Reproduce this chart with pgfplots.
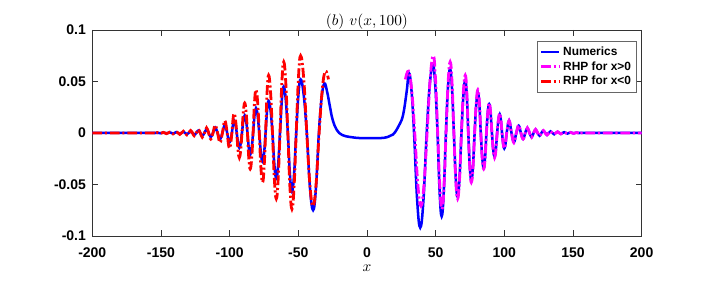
\documentclass[border=0pt]{standalone}
\usepackage{fontspec}
\usepackage{pgfplots}
\pgfplotsset{compat=1.18}
\usetikzlibrary{calc}
\newfontfamily\hv{Liberation Sans}
\definecolor{mblue}{rgb}{0,0,1}
\definecolor{mmag}{rgb}{1,0,1}
\definecolor{mred}{rgb}{1,0,0}
\begin{document}
\begin{tikzpicture}
\begin{axis}[
  scale only axis, width=392.4pt, height=147.1pt,
  xmin=-200, xmax=200, ymin=-0.1, ymax=0.1,
  xtick={-200,-150,-100,-50,0,50,100,150,200},
  xticklabels={-200,-150,-100,-50,0,50,100,150,200},
  ytick={-0.1,-0.05,0,0.05,0.1},
  yticklabels={-0.1,-0.05,0,0.05,0.1},
  tick align=inside, major tick length=4pt,
  tick label style={font=\hv\bfseries\fontsize{10}{12}\selectfont, color=black},
  xticklabel style={yshift=-5pt},
  yticklabel style={xshift=-1pt},
  axis line style={black!80, line width=0.4pt},
  every tick/.style={black!80, line width=0.4pt},
  title={$(b)\ v(x,100)$},
  title style={font=\fontsize{11}{13}\selectfont, yshift=-9pt},
  xlabel={$x$},
  xlabel style={font=\fontsize{11}{13}\selectfont, yshift=2pt},
  legend style={at={(0.99,0.945)}, anchor=north east,
    font=\hv\bfseries\fontsize{8.5}{10}\selectfont,
    draw=black!60, line width=0.4pt, inner sep=1.5pt, row sep=-1pt},
  legend cell align=left,
  legend image code/.code={\draw[#1] (0cm,0cm) -- (0.45cm,0cm);},
  every axis plot/.append style={smooth, tension=0.7},
]
\addplot[mblue, line width=1.8pt] coordinates {
(-200,0) (-170,0) (-156,0) (-154.9,-0.0002) (-153.8,0) (-152.7,0.0002) (-151.6,0) (-150.5,-0.0003) (-149.4,0) (-148.3,0.0003) (-147.15,0) (-146,-0.0004) (-144.8,0) (-143.6,0.0005) (-142.4,0) (-141.2,-0.0006) (-140,0) (-138.8,0.0008) (-137.55,0) (-136.3,-0.0009) (-135,0) (-133.7,0.0011) (-132.4,0) (-131.1,-0.0013) (-129.75,0) (-128.4,0.0016) (-127.05,0) (-125.7,-0.0019) (-124.25,0) (-122.8,0.0023) (-121.35,0) (-119.9,-0.0028) (-118.35,0) (-116.8,0.0034) (-115.25,0) (-113.7,-0.004) (-112.1,0) (-110.5,0.005) (-108.75,0) (-107,-0.006) (-105.25,0) (-103.5,0.0075) (-101.75,0)
(-100.9,-0.0064) (-100,-0.009) (-99.2,-0.0064) (-98.35,0) (-97.5,0.0085) (-96.7,0.012) (-95.75,0.0085) (-94.8,0) (-93.85,-0.0103) (-92.9,-0.0145) (-91.95,-0.0103) (-91,0) (-90,0.012) (-89,0.017) (-88,0.012) (-87,0) (-86,-0.0148) (-85,-0.021) (-83.95,-0.0148) (-82.9,0) (-81.85,0.017) (-80.8,0.024) (-79.6,0.017) (-78.4,0) (-77.2,-0.0198) (-76,-0.028) (-74.9,-0.0198) (-73.8,0) (-72.7,0.022) (-71.6,0.031) (-70.2,0.022) (-68.8,0) (-67.4,-0.031) (-66,-0.044) (-64.65,-0.031) (-63.3,0) (-61.95,0.032) (-60.6,0.045) (-59.1,0.032) (-57.6,0) (-56.1,-0.040) (-54.6,-0.057) (-53.05,-0.040) (-51.5,0) (-49.9,0.037) (-48.3,0.052) (-46.05,0.037) (-43.8,0) (-41.5,-0.053) (-39.2,-0.075) (-37.1,-0.053) (-35,0) (-33,0.034) (-31,0.048) (-29,0.040) (-27,0.026) (-25,0.013) (-22,0.003) (-18,-0.002) (-12,-0.004) (-5,-0.005) (0,-0.005) (5,-0.005) (10,-0.005) (15,-0.004) (19,-0.0015) (22,0.004) (24,0.009) (26.4,0.018) (28.9,0.040) (30.6,0.058)
(32.45,0.041) (34.3,0) (36.55,-0.065) (38.8,-0.092) (41.15,-0.065) (43.5,0) (45.75,0.047) (48,0.066) (49.7,0.047) (51.4,0) (52.9,-0.057) (54.4,-0.081) (55.95,-0.057) (57.5,0) (59,0.044) (60.5,0.062) (61.9,0.044) (63.3,0) (64.65,-0.044) (66,-0.062) (67.4,-0.044) (68.8,0) (70.2,0.036) (71.6,0.051) (72.7,0.036) (73.8,0) (74.9,-0.0325) (76,-0.046) (77.2,-0.0325) (78.4,0) (79.6,0.0276) (80.8,0.039) (81.85,0.0276) (82.9,0) (83.95,-0.024) (85,-0.034) (86,-0.024) (87,0) (88,0.0198) (89,0.028) (90,0.0198) (91,0) (91.95,-0.0163) (92.9,-0.023) (93.85,-0.0163) (94.8,0) (95.75,0.0127) (96.7,0.018) (97.5,0.0127) (98.35,0) (99.2,-0.0106) (100,-0.015) (100.9,-0.0106) (101.75,0)
(103.5,0.012) (105.25,0) (107,-0.009) (108.75,0) (110.5,0.007) (112.1,0) (113.7,-0.0058) (115.25,0) (116.8,0.0048) (118.35,0) (119.9,-0.004) (121.35,0) (122.8,0.0033) (124.25,0) (125.7,-0.0027) (127.05,0) (128.4,0.0022) (129.75,0) (131.1,-0.0018) (132.4,0) (133.7,0.0015) (135,0) (136.3,-0.0013) (137.55,0) (138.8,0.0011) (140,0) (141.2,-0.0009) (142.4,0) (143.6,0.0007) (144.8,0) (146,-0.0006) (147.15,0) (148.3,0.0005) (149.4,0) (150.5,-0.0004) (151.6,0) (152.7,0.0003) (153.8,0) (154.9,-0.0002) (156,0) (170,0) (200,0)
};
\addlegendentry{Numerics}
\addplot[mmag, line width=2pt, dash pattern=on 7pt off 2pt on 1.5pt off 2pt] coordinates {
(28,0.052) (30.3,0.060) (32.55,0.042) (34.8,0) (37.05,-0.050) (39.3,-0.071) (41.55,-0.050) (43.8,0) (46.05,0.053) (48.3,0.075) (49.9,0.053) (51.5,0) (53.05,-0.052) (54.6,-0.074) (56.1,-0.052) (57.6,0) (59.1,0.049) (60.6,0.069) (61.95,0.049) (63.3,0) (64.65,-0.045) (66.0,-0.064) (67.4,-0.045) (68.8,0) (70.2,0.040) (71.6,0.056) (72.7,0.040) (73.8,0) (74.9,-0.034) (76.0,-0.048) (77.2,-0.034) (78.4,0) (79.6,0.030) (80.8,0.042) (81.85,0.030) (82.9,0) (83.95,-0.025) (85.0,-0.035) (86.0,-0.025) (87.0,0) (88.0,0.0205) (89.0,0.029) (90.0,0.0205) (91.0,0) (91.95,-0.017) (92.9,-0.024) (93.85,-0.017) (94.8,0) (95.75,0.0134) (96.7,0.019) (97.5,0.0134) (98.35,0) (99.2,-0.0106) (100,-0.015) (100.9,-0.0106) (101.75,0)
(103.5,0.012) (105.25,0) (107.0,-0.0095) (108.75,0) (110.5,0.0075) (112.1,0) (113.7,-0.006) (115.25,0) (116.8,0.005) (118.35,0) (119.9,-0.0042) (121.35,0) (122.8,0.0035) (124.25,0) (125.7,-0.0029) (127.05,0) (128.4,0.0024) (129.75,0) (131.1,-0.002) (132.4,0) (133.7,0.0017) (135.0,0) (136.3,-0.0014) (137.55,0) (138.8,0.0012) (140.0,0) (141.2,-0.001) (142.4,0) (143.6,0.0008) (144.8,0) (146.0,-0.0007) (147.15,0) (148.3,0.0006) (149.4,0) (150.5,-0.0005) (151.6,0) (152.7,0.0004) (153.8,0) (154.9,-0.0003) (156,0) (170,0) (200,0)
};
\addlegendentry{RHP for x>0}
\addplot[mred, line width=2pt, dash pattern=on 7pt off 2pt on 1.5pt off 2pt] coordinates {
(-200,0) (-170,0) (-156,0) (-154.9,-0.0003) (-153.8,0) (-152.7,0.0004) (-151.6,0) (-150.5,-0.0005) (-149.4,0) (-148.3,0.0006) (-147.15,0) (-146.0,-0.0007) (-144.8,0) (-143.6,0.0008) (-142.4,0) (-141.2,-0.001) (-140,0) (-138.8,0.0012) (-137.55,0) (-136.3,-0.0014) (-135,0) (-133.7,0.0017) (-132.4,0) (-131.1,-0.002) (-129.75,0) (-128.4,0.0024) (-127.05,0) (-125.7,-0.0029) (-124.25,0) (-122.8,0.0035) (-121.35,0) (-119.9,-0.0042) (-118.35,0) (-116.8,0.005) (-115.25,0) (-113.7,-0.006) (-112.1,0) (-110.5,0.0075) (-108.75,0) (-107,-0.0095) (-105.25,0) (-103.5,0.012) (-101.75,0)
(-100.9,-0.0106) (-100,-0.015) (-99.2,-0.0106) (-98.35,0) (-97.5,0.0134) (-96.7,0.019) (-95.75,0.0134) (-94.8,0) (-93.85,-0.017) (-92.9,-0.024) (-91.95,-0.017) (-91,0) (-90,0.0205) (-89,0.029) (-88,0.0205) (-87,0) (-86,-0.025) (-85,-0.035) (-83.95,-0.025) (-82.9,0) (-81.85,0.030) (-80.8,0.042) (-79.6,0.030) (-78.4,0) (-77.2,-0.034) (-76,-0.048) (-74.9,-0.034) (-73.8,0) (-72.7,0.040) (-71.6,0.056) (-70.2,0.040) (-68.8,0) (-67.4,-0.045) (-66,-0.064) (-64.65,-0.045) (-63.3,0) (-61.95,0.049) (-60.6,0.069) (-59.1,0.049) (-57.6,0) (-56.1,-0.052) (-54.6,-0.074) (-53.05,-0.052) (-51.5,0) (-49.9,0.053) (-48.3,0.075) (-46.05,0.053) (-43.8,0) (-41.55,-0.050) (-39.3,-0.071) (-37.05,-0.050) (-34.8,0) (-32.55,0.042) (-30.3,0.060) (-28,0.052)
};
\addlegendentry{RHP for x<0}
\end{axis}
\pgfresetboundingbox
\path[use as bounding box] ($(current axis.south west)+(-65.9pt,-32.1pt)$) rectangle ($(current axis.north east)+(47.4pt,21.4pt)$);
\end{tikzpicture}
\end{document}
